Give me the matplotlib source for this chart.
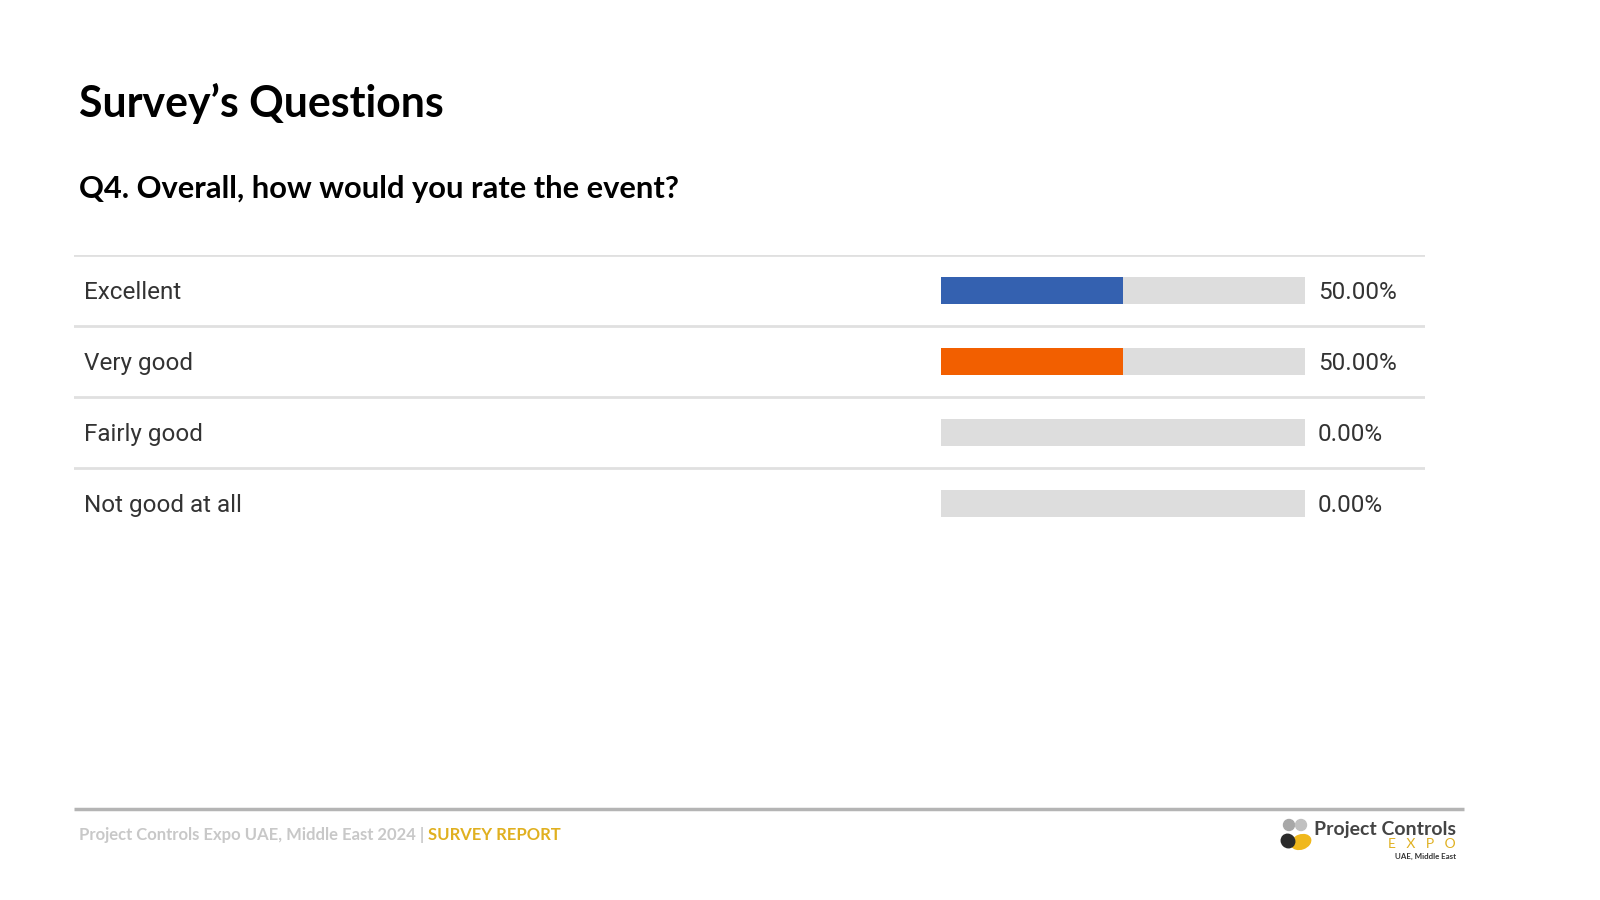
import matplotlib
matplotlib.use("Agg")
import matplotlib.pyplot as plt
from matplotlib.patches import Circle, Ellipse

# data
categories = ["Excellent", "Very good", "Fairly good", "Not good at all"]
values = [50.0, 50.0, 0.0, 0.0]
bar_colors = ["#3461b0", "#f25f00", "#f25f00", "#f25f00"]

title = "Survey\u2019s Questions"
question = "Q4. Overall, how would you rate the event?"
footer_left = "Project Controls Expo UAE, Middle East 2024 | "
footer_right = "SURVEY REPORT"

W, H = 1600, 900
fig = plt.figure(figsize=(16, 9), dpi=100)
fig.patch.set_facecolor("white")

# overlay axes in pixel coordinates for page text
ax = fig.add_axes([0, 0, 1, 1])
ax.set_xlim(0, W)
ax.set_ylim(H, 0)
ax.axis("off")

def frac(x0, y0, x1, y1):
    return [x0 / W, 1 - y1 / H, (x1 - x0) / W, (y1 - y0) / H]

ax.text(79, 117, title, fontsize=30.8, fontweight="bold", family="Lato",
        color="#000000", va="baseline", ha="left")
ax.text(79, 198, question, fontsize=22.2, fontweight="bold", family="Lato",
        color="#000000", va="baseline", ha="left")

# rows
row_h = 71
top = 255
bottom = top + row_h * len(categories)
ra = fig.add_axes(frac(74, top, 1425, bottom))
ra.set_xlim(0, 1)
ra.set_ylim(len(categories) - 0.5, -0.5)
ra.axis("off")
for i in range(len(categories)):
    ra.axhline(i - 0.5, color="#e0e0e0", lw=2)
    ra.text(10 / 1351, i + 0.03, categories[i], fontsize=17.5, family="Roboto",
            color="#333333", va="center", ha="left")

bx = fig.add_axes(frac(941, top, 1305, bottom))
bx.set_xlim(0, 100)
bx.set_ylim(len(categories) - 0.5, -0.5)
bx.axis("off")
ypos = list(range(len(categories)))
bx.barh(ypos, [100] * len(categories), height=0.38, color="#dddddd", lw=0)
bx.barh(ypos, values, height=0.38, color=bar_colors, lw=0)
for i, v in enumerate(values):
    bx.text(103.6, i + 0.03, f"{v:.2f}%", fontsize=17.5, family="Roboto",
            color="#333333", va="center", ha="left", clip_on=False)

# footer
ax.plot([74, 1464], [809, 809], color="#b4b4b4", lw=2.5, solid_capstyle="butt")
t1 = ax.text(79, 835, footer_left, fontsize=12, fontweight="bold", family="Lato",
             color="#c8c8c8", va="center", ha="left")
fig.canvas.draw()
bb = t1.get_window_extent()
x_end = bb.x1
ax.text(x_end, 835, footer_right, fontsize=12, fontweight="bold", family="Lato",
        color="#e0b020", va="center", ha="left")

# logo
ax.add_patch(Circle((1289, 825), 5.5, color="#a8a8a8"))
ax.add_patch(Circle((1301, 825), 5.5, color="#c0c0c0"))
ax.add_patch(Ellipse((1301, 842), 20, 14, angle=-20, color="#f0b81c"))
ax.add_patch(Ellipse((1288, 841), 14, 13, angle=45, color="#2b2b2b"))
ax.text(1456, 829, "Project Controls", fontsize=14, fontweight="bold", family="Lato",
        color="#444444", va="center", ha="right")
ax.text(1456, 844, "E   X   P   O", fontsize=10, family="Lato",
        color="#e0b020", va="center", ha="right")
ax.text(1456, 856, "UAE, Middle East", fontsize=5.7, fontweight="bold", family="Lato",
        color="#333333", va="center", ha="right")

fig.savefig("out.png", dpi=100, facecolor="white")
